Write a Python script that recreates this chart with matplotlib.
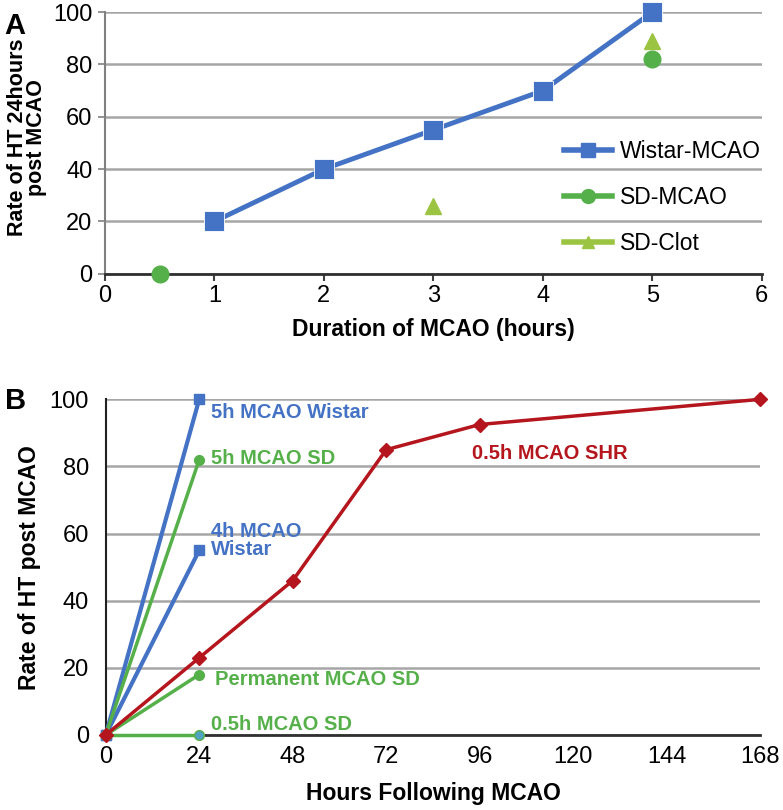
import matplotlib.pyplot as plt

plt.rcParams['font.family'] = ['Liberation Sans', 'DejaVu Sans']

# Panel A data
wistar_x = [1, 2, 3, 4, 5]
wistar_y = [20, 40, 55, 70, 100]
sd_mcao_x = [0.5, 5]
sd_mcao_y = [0, 82]
sd_clot_x = [3, 5]
sd_clot_y = [26, 89]

# Panel B data
hours = [0, 24]
wistar_5h = [0, 100]
sd_5h = [0, 82]
wistar_4h = [0, 55]
sd_perm = [0, 18]
sd_05h = [0, 0]
shr_hours = [0, 24, 48, 72, 96, 168]
shr_05h = [0, 23, 46, 85, 92.5, 100]

blue = '#4472C4'
green = '#56B04A'
lgreen = '#9CC443'
red = '#B5161D'
grid = '#A6A6A6'

fig = plt.figure(figsize=(7.83, 8.10), dpi=100)

def style(ax, xmax, xticks, ticklen, spine_col):
    ax.set_xlim(0, xmax)
    ax.set_ylim(0, 100)
    ax.set_xticks(xticks)
    ax.set_yticks(range(0, 101, 20))
    ax.yaxis.grid(True, color=grid, lw=1.8)
    ax.set_axisbelow(True)
    for s in ['top', 'right']:
        ax.spines[s].set_visible(False)
    ax.spines['left'].set_color(spine_col)
    ax.spines['left'].set_linewidth(1.5)
    ax.spines['bottom'].set_color('#303030')
    ax.spines['bottom'].set_linewidth(2)
    ax.tick_params(axis='y', length=ticklen, width=1.2, color='#808080',
                   labelsize=17, pad=4)
    ax.tick_params(axis='x', length=ticklen, width=1.5, color='#404040',
                   labelsize=17, pad=3)

# ---- panel A
ax1 = fig.add_axes([0.134, 0.662, 0.839, 0.323])
style(ax1, 6, range(0, 7), 5, '#808080')
ax1.plot(wistar_x, wistar_y, color=blue, lw=3.5, marker='s', ms=14,
         mec='white', mew=0.6, clip_on=False, zorder=3)
ax1.plot(sd_mcao_x, sd_mcao_y, color=green, ls='none', marker='o', ms=12,
         clip_on=False, zorder=3)
ax1.plot(sd_clot_x, sd_clot_y, color=lgreen, ls='none', marker='^', ms=12,
         clip_on=False, zorder=3)
# legend handles show lines for every series
h = [plt.Line2D([], [], color=blue, lw=4, marker='s', ms=10),
     plt.Line2D([], [], color=green, lw=4, marker='o', ms=10),
     plt.Line2D([], [], color=lgreen, lw=4, marker='^', ms=9)]
ax1.legend(h, ['Wistar-MCAO', 'SD-MCAO', 'SD-Clot'], loc='center right',
           bbox_to_anchor=(1.03, 0.29), frameon=False, fontsize=16.5,
           labelspacing=1.0, handlelength=2.1, handletextpad=0.35)
ax1.set_xlabel('Duration of MCAO (hours)', fontsize=16.5, fontweight='bold', labelpad=8)
ax1.set_ylabel('Rate of HT 24hours\npost MCAO', fontsize=15.5, fontweight='bold',
               linespacing=0.9)
ax1.yaxis.set_label_coords(-0.088, 0.52)
fig.text(0.006, 0.985, 'A', fontsize=21, fontweight='bold', va='top')

# ---- panel B
ax2 = fig.add_axes([0.135, 0.0926, 0.836, 0.4144])
style(ax2, 168, range(0, 169, 24), 0, '#202020')
ax2.tick_params(axis='x', pad=8)
ax2.tick_params(axis='y', pad=12)
ax2.plot(hours, wistar_5h, color=blue, lw=3, marker='s', ms=7, clip_on=False, zorder=3)
ax2.plot(hours, wistar_4h, color=blue, lw=3, marker='s', ms=7, clip_on=False, zorder=3)
ax2.plot(hours, sd_5h, color=green, lw=2.5, marker='o', ms=7, clip_on=False, zorder=3)
ax2.plot(hours, sd_perm, color=green, lw=2.5, marker='o', ms=7, clip_on=False, zorder=3)
ax2.plot(hours, sd_05h, color=green, lw=2.5, marker='o', ms=7, mfc='#4FA3C0',
         clip_on=False, zorder=3)
ax2.plot(shr_hours, shr_05h, color=red, lw=2.5, marker='D', ms=7, clip_on=False, zorder=4)

tkw = dict(fontsize=14.5, fontweight='bold')
ax2.text(27, 96, '5h MCAO Wistar', color=blue, va='center', **tkw)
ax2.text(27, 82.5, '5h MCAO SD', color=green, va='center', **tkw)
ax2.text(27, 58, '4h MCAO\nWistar', color=blue, va='center', linespacing=0.9, **tkw)
ax2.text(94, 84, '0.5h MCAO SHR', color=red, va='center', **tkw)
ax2.text(28, 16.5, 'Permanent MCAO SD', color=green, va='center', **tkw)
ax2.text(27, 3, '0.5h MCAO SD', color=green, va='center', **tkw)

ax2.set_xlabel('Hours Following MCAO', fontsize=16.5, fontweight='bold', labelpad=10)
ax2.set_ylabel('Rate of HT post MCAO', fontsize=16.5, fontweight='bold', labelpad=6)
fig.text(0.006, 0.522, 'B', fontsize=21, fontweight='bold', va='top')

fig.savefig('out.png', dpi=100)
